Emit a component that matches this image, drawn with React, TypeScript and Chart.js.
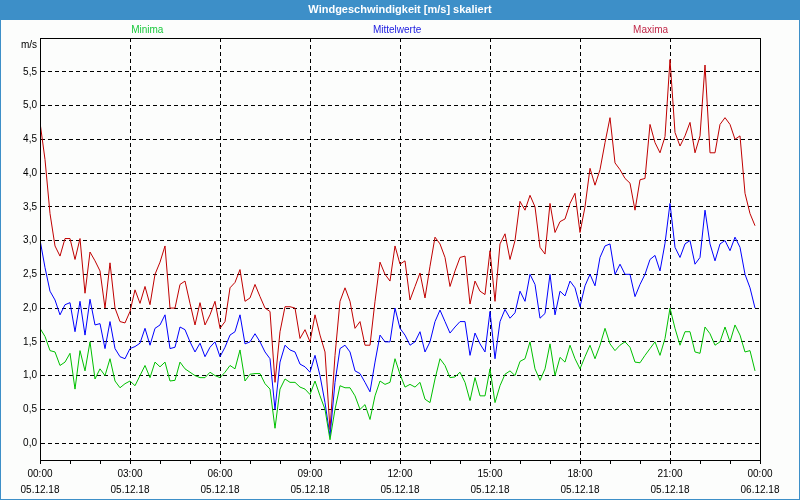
import React, { useEffect, useRef } from "react";
import { Chart, registerables } from "chart.js";

Chart.register(...registerables);

const TITLE = "Windgeschwindigkeit [m/s] skaliert";
const SERIES_NAMES = ["Minima", "Mittelwerte", "Maxima"];
const Y_UNIT = "m/s";
const X_TICK_TIMES = ["00:00", "03:00", "06:00", "09:00", "12:00", "15:00", "18:00", "21:00", "00:00"];
const X_TICK_DATES = ["05.12.18", "05.12.18", "05.12.18", "05.12.18", "05.12.18", "05.12.18", "05.12.18", "05.12.18", "06.12.18"];
const Y_TICKS = [0, 0.5, 1, 1.5, 2, 2.5, 3, 3.5, 4, 4.5, 5, 5.5];

// 10-minute samples, 00:00 .. 23:50
const maxima = [
  4.75, 4.2, 3.4, 2.92, 2.77, 3.03, 3.03, 2.72, 3.03, 2.22, 2.83, 2.7,
  2.55, 2.0, 2.67, 2.0, 1.8, 1.78, 1.95, 2.27, 2.07, 2.32, 2.05, 2.5,
  2.68, 2.92, 2.0, 2.0, 2.35, 2.4, 2.07, 1.75, 2.08, 1.75, 1.9, 2.1,
  1.7, 1.8, 2.3, 2.38, 2.57, 2.1, 2.15, 2.35, 2.17, 2.0, 1.95, 0.9,
  1.65, 2.02, 2.02, 2.0, 1.55, 1.68, 1.5, 1.9, 1.6, 1.35, 0.2, 1.3,
  2.1, 2.3, 2.1, 1.7, 1.8, 1.45, 1.45, 2.1, 2.68, 2.5, 2.4, 2.92,
  2.65, 2.7, 2.12, 2.32, 2.52, 2.15, 2.62, 3.05, 2.95, 2.75, 2.32, 2.55,
  2.75, 2.77, 2.06, 2.4, 2.25, 2.2, 2.85, 2.1, 2.95, 3.1, 2.72, 3.0,
  3.58, 3.45, 3.67, 3.5, 2.9, 2.8, 3.55, 3.12, 3.28, 3.32, 3.55, 3.7,
  3.12, 3.5, 4.07, 3.82, 4.05, 4.45, 4.82, 4.15, 4.05, 3.92, 3.85, 3.45,
  3.9, 3.92, 4.72, 4.45, 4.3, 4.54, 5.68, 4.6, 4.4, 4.55, 4.75, 4.3,
  4.55, 5.6, 4.3, 4.3, 4.72, 4.82, 4.72, 4.5, 4.55, 3.7, 3.4, 3.22,
];

const mittelwerte = [
  3.01, 2.6, 2.25, 2.12, 1.9, 2.05, 2.08, 1.65, 2.1, 1.6, 2.13, 1.75,
  1.77, 1.4, 1.8, 1.4, 1.28, 1.25, 1.4, 1.43, 1.48, 1.7, 1.45, 1.7,
  1.75, 1.9, 1.4, 1.42, 1.72, 1.68, 1.5, 1.35, 1.48, 1.28, 1.42, 1.5,
  1.28, 1.42, 1.6, 1.65, 1.9, 1.47, 1.5, 1.62, 1.5, 1.35, 1.25, 0.5,
  1.2, 1.45, 1.38, 1.35, 1.17, 1.13, 1.05, 1.3, 1.0, 0.6, 0.1, 0.9,
  1.4, 1.45, 1.35, 1.07, 1.03, 0.9, 0.76, 1.2, 1.6, 1.5, 1.5, 2.0,
  1.7, 1.6, 1.45, 1.5, 1.65, 1.35, 1.5, 1.8, 1.97, 1.8, 1.63, 1.72,
  1.8, 1.8, 1.3, 1.63, 1.47, 1.35, 1.95, 1.25, 1.8, 1.98, 1.85, 1.93,
  2.25, 2.1, 2.5, 2.35, 1.85, 1.92, 2.5, 1.9, 2.25, 2.18, 2.4, 2.3,
  2.02, 2.33, 2.5, 2.33, 2.75, 2.92, 2.95, 2.5, 2.65, 2.5, 2.5, 2.17,
  2.35, 2.5, 2.72, 2.78, 2.55, 2.96, 3.55, 2.9, 2.75, 2.95, 3.0, 2.65,
  2.75, 3.45, 2.95, 2.7, 2.95, 3.0, 2.85, 3.05, 2.9, 2.5, 2.3, 2.0,
];

const minima = [
  1.7, 1.58, 1.37, 1.35, 1.15, 1.2, 1.33, 0.8, 1.37, 1.07, 1.5, 0.95,
  1.1, 1.0, 1.25, 0.92, 0.82, 0.88, 0.92, 0.85, 1.0, 1.15, 0.97, 1.2,
  1.13, 1.2, 0.92, 0.93, 1.2, 1.1, 1.05, 1.0, 0.97, 0.97, 1.05, 1.0,
  0.97, 1.05, 1.15, 1.1, 1.38, 0.92, 1.02, 1.03, 1.03, 0.88, 0.8, 0.22,
  0.8, 0.95, 0.9, 0.9, 0.83, 0.8, 0.72, 0.92, 0.7, 0.5, 0.05, 0.5,
  0.85, 0.82, 0.82, 0.7, 0.5, 0.57, 0.35, 0.7, 0.92, 0.87, 0.9, 1.25,
  1.02, 0.83, 0.87, 0.83, 0.9, 0.65, 0.6, 0.95, 1.25, 1.15, 0.97, 0.98,
  1.05, 0.9, 0.63, 0.97, 0.7, 0.7, 1.1, 0.6, 0.85, 1.02, 1.07, 1.0,
  1.21, 1.25, 1.5, 1.1, 0.93, 1.1, 1.47, 1.0, 1.27, 1.2, 1.45, 1.25,
  1.1, 1.28, 1.45, 1.25, 1.45, 1.7, 1.47, 1.37, 1.45, 1.5, 1.42, 1.2,
  1.19, 1.3, 1.4, 1.5, 1.3, 1.55, 2.0, 1.7, 1.45, 1.65, 1.65, 1.35,
  1.33, 1.72, 1.62, 1.45, 1.5, 1.72, 1.5, 1.75, 1.6, 1.35, 1.37, 1.07,
];

const COLORS = {
  min: "#00c000",
  mean: "#0000ff",
  max: "#c00000",
  legendMin: "#19c83c",
  legendMean: "#2020e0",
  legendMax: "#c02848",
  bar: "#3d8fc8",
};

const FONT = "'Liberation Sans', Arial, sans-serif";

const toPoints = (arr: number[]) => arr.map((v, i) => ({ x: i / 6, y: v }));

const decoPlugin = {
  id: "deco",
  beforeDraw(chart: any) {
    const { ctx, width, height, chartArea } = chart;
    ctx.save();
    ctx.fillStyle = "#fcfdfc";
    ctx.fillRect(0, 0, width, height);
    ctx.fillStyle = COLORS.bar;
    ctx.fillRect(0, 0, width, 20);
    ctx.strokeStyle = COLORS.bar;
    ctx.lineWidth = 1;
    ctx.strokeRect(0.5, 0.5, width - 1, height - 1);
    ctx.fillStyle = "#ffffff";
    ctx.font = `bold 11px ${FONT}`;
    ctx.textAlign = "center";
    ctx.textBaseline = "middle";
    ctx.fillText(TITLE, width / 2, 10);
    ctx.font = `10px ${FONT}`;
    const w = chartArea.right - chartArea.left;
    const legendColors = [COLORS.legendMin, COLORS.legendMean, COLORS.legendMax];
    const fr = [0.149, 0.496, 0.848];
    SERIES_NAMES.forEach((n, k) => {
      ctx.fillStyle = legendColors[k];
      ctx.fillText(n, chartArea.left + w * fr[k], 30);
    });
    ctx.fillStyle = "#000";
    ctx.textAlign = "right";
    ctx.fillText(Y_UNIT, chartArea.left - 3, 45);
    ctx.restore();
  },
  afterDraw(chart: any) {
    const { ctx, chartArea } = chart;
    ctx.save();
    ctx.strokeStyle = "#000";
    ctx.lineWidth = 1;
    ctx.setLineDash([]);
    ctx.strokeRect(
      Math.round(chartArea.left) + 0.5,
      Math.round(chartArea.top) + 0.5,
      Math.round(chartArea.right - chartArea.left),
      Math.round(chartArea.bottom - chartArea.top)
    );
    ctx.restore();
  },
};

export default function App() {
  const ref = useRef<HTMLCanvasElement | null>(null);
  useEffect(() => {
    document.body.style.margin = "0";
    const canvas = ref.current!;
    const chart = new Chart(canvas, {
      type: "line",
      data: {
        datasets: [
          { label: SERIES_NAMES[0], data: toPoints(minima), borderColor: COLORS.min, borderWidth: 1, pointRadius: 0, tension: 0, fill: false },
          { label: SERIES_NAMES[1], data: toPoints(mittelwerte), borderColor: COLORS.mean, borderWidth: 1, pointRadius: 0, tension: 0, fill: false },
          { label: SERIES_NAMES[2], data: toPoints(maxima), borderColor: COLORS.max, borderWidth: 1, pointRadius: 0, tension: 0, fill: false },
        ],
      },
      options: {
        animation: false,
        responsive: false,
        maintainAspectRatio: false,
        devicePixelRatio: 1,
        layout: { padding: { top: 38, right: 40, left: 0, bottom: 0 } },
        plugins: {
          legend: { display: false },
          title: { display: false },
          tooltip: { enabled: false },
        },
        scales: {
          x: {
            type: "linear",
            min: 0,
            max: 24,
            ticks: {
              stepSize: 1,
              autoSkip: false,
              maxRotation: 0,
              color: "#000",
              font: { family: FONT, size: 10, lineHeight: 1.6 },
              padding: 2,
              callback: (v: any) => {
                const n = Number(v);
                if (n % 3 !== 0) return "";
                const k = n / 3;
                return [X_TICK_TIMES[k], X_TICK_DATES[k]];
              },
            },
            grid: {
              color: (c: any) => (c.tick && c.tick.value % 3 === 0 ? "#000" : "rgba(0,0,0,0)"),
              tickColor: "#000",
              tickLength: 4,
              lineWidth: 1,
              drawTicks: true,
            },
            border: { display: true, color: "#000", width: 1, dash: [4, 3] },
            afterFit: (s: any) => {
              s.height = 40;
            },
          },
          y: {
            type: "linear",
            min: -0.25,
            max: 6,
            afterBuildTicks: (s: any) => {
              s.ticks = Y_TICKS.map((v) => ({ value: v }));
            },
            ticks: {
              color: "#000",
              font: { family: FONT, size: 10 },
              padding: 3,
              callback: (v: any) => Number(v).toFixed(1).replace(".", ","),
            },
            grid: { color: "#000", drawTicks: false, lineWidth: 1 },
            border: { display: true, color: "#000", width: 1, dash: [4, 3] },
            afterFit: (s: any) => {
              s.width = 40;
            },
          },
        },
      },
      plugins: [decoPlugin],
    } as any);
    return () => chart.destroy();
  }, []);
  return <canvas ref={ref} width={800} height={500} style={{ display: "block", width: 800, height: 500 }} />;
}
